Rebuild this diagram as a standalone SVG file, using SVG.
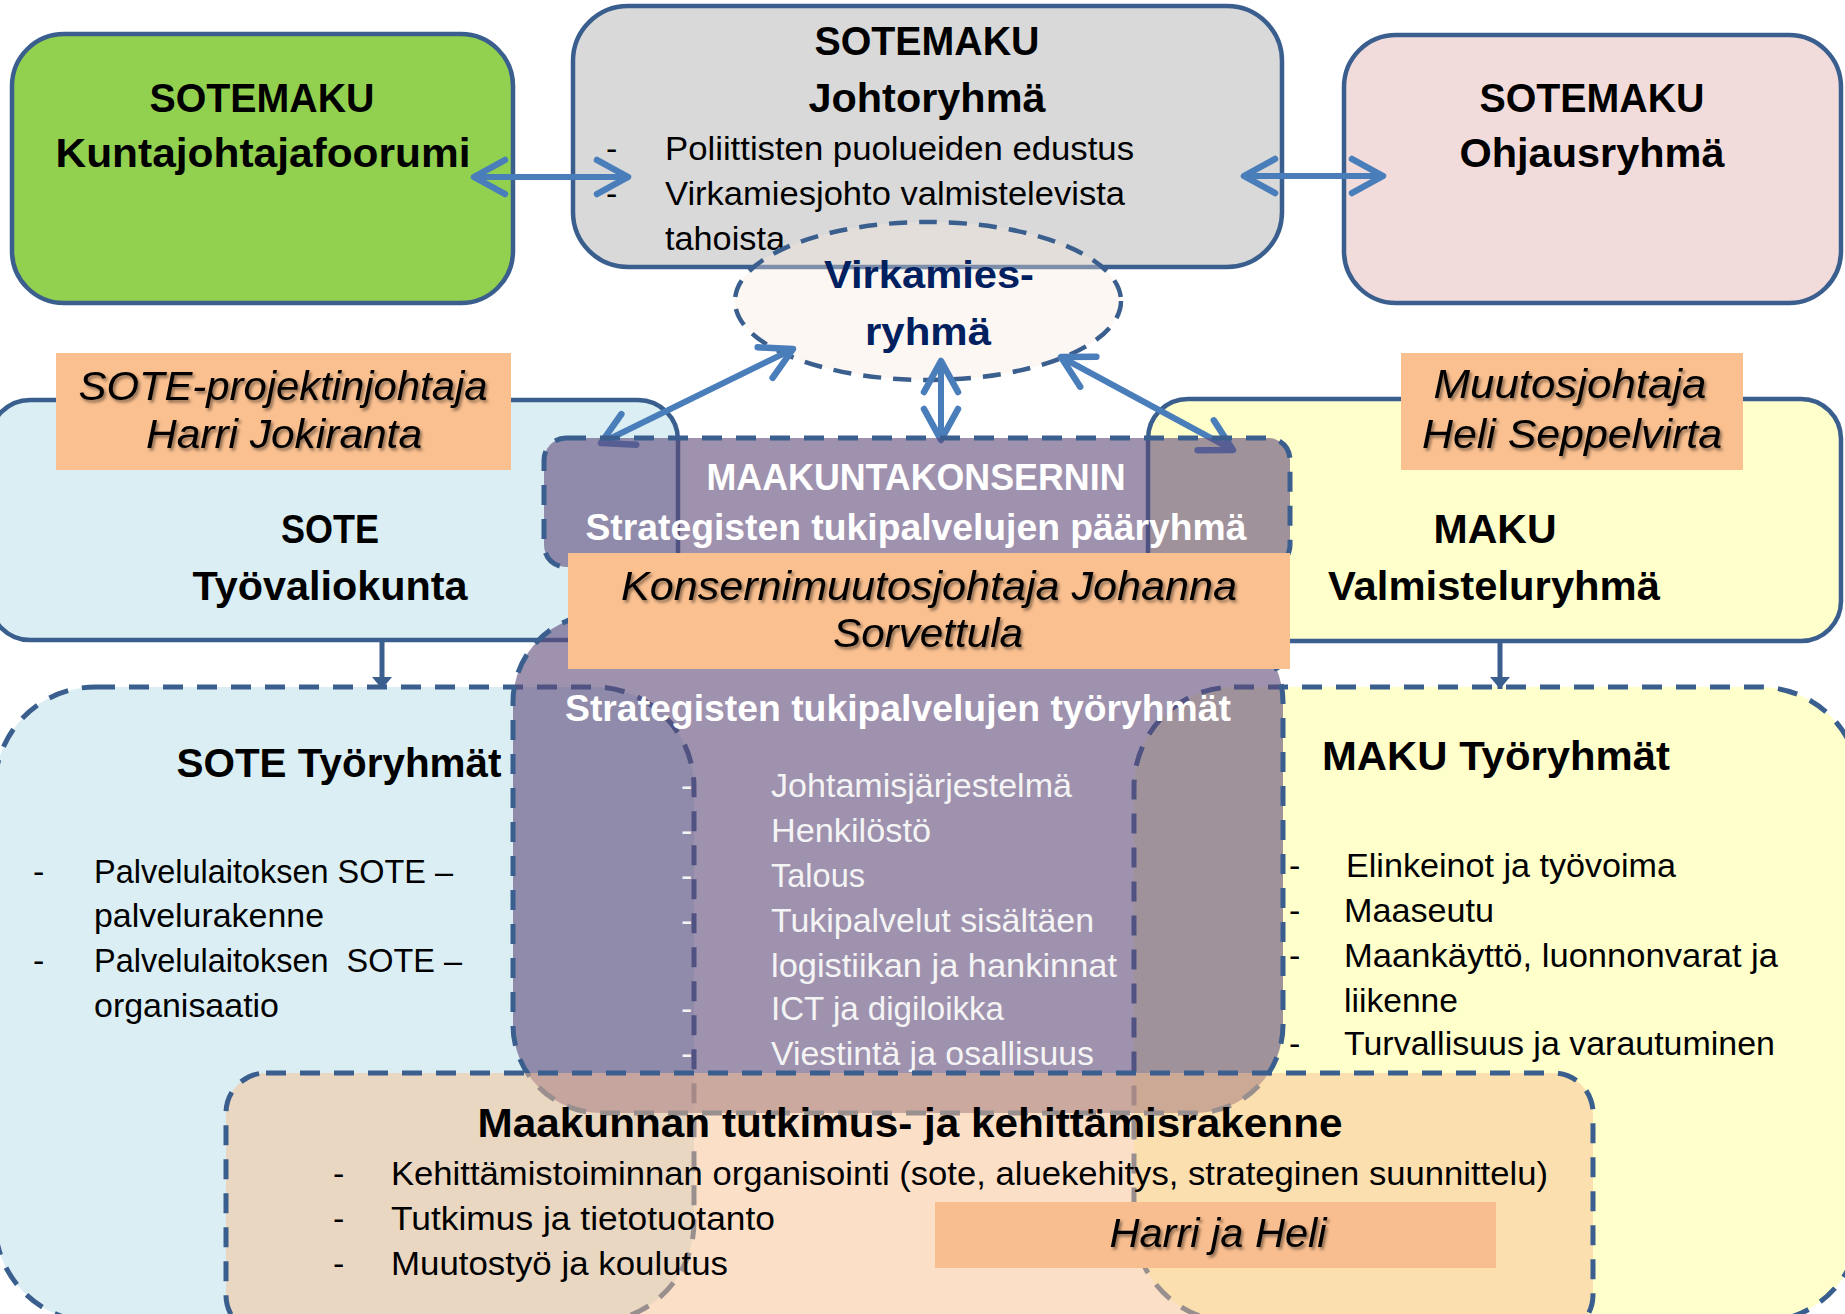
<svg xmlns="http://www.w3.org/2000/svg" width="1845" height="1314" viewBox="0 0 1845 1314">
<defs>
<style>
text{font-family:"Liberation Sans",Arial,sans-serif;}
.box{stroke:#3a5f8e;stroke-width:4.5;}
.dash{stroke:#3a5f8e;stroke-width:5;stroke-dasharray:20 14;}
.t{font-size:40px;font-weight:bold;fill:#000;text-anchor:middle;}
.w{font-size:36px;font-weight:bold;fill:#fff;text-anchor:middle;}
.r{font-size:34px;fill:#000;}
.rw{font-size:34px;fill:#f4f4f4;}
.it{font-size:40px;font-style:italic;fill:#000;text-anchor:middle;filter:url(#sh);}
.lab{fill:#fac090;}
.arr{stroke:#4a7ebb;stroke-width:6;fill:none;marker-start:url(#ah);marker-end:url(#ah);}
.dn{stroke:#3a5f8e;stroke-width:5;fill:none;marker-end:url(#ahs);}
</style>
<filter id="sh" x="-5%" y="-30%" width="115%" height="170%">
<feDropShadow dx="2" dy="2.5" stdDeviation="1.5" flood-color="#000" flood-opacity="0.45"/>
</filter>
<marker id="ah" markerUnits="userSpaceOnUse" viewBox="-42 -26 52 52" refX="0" refY="0" markerWidth="52" markerHeight="52" orient="auto-start-reverse">
<path d="M-31,-17 L0,0 L-31,17" fill="none" stroke="#4a7ebb" stroke-width="6.5" stroke-linecap="round" stroke-linejoin="round"/>
</marker>
<marker id="ahs" markerUnits="userSpaceOnUse" viewBox="-16 -12 20 24" refX="0" refY="0" markerWidth="20" markerHeight="24" orient="auto">
<path d="M-12,-10 L0,0 L-12,10 Z" fill="#3a5f8e"/>
</marker>
</defs>
<rect width="1845" height="1314" fill="#fff"/>

<g id="johtoryhma">
<rect class="box" x="573" y="6" width="709" height="261" rx="55" fill="#d9d9d9"/>
<text class="t" x="927" y="55" textLength="225" lengthAdjust="spacingAndGlyphs">SOTEMAKU</text>
<text class="t" x="927" y="112" textLength="237" lengthAdjust="spacingAndGlyphs">Johtoryhmä</text>
<text class="r" x="606" y="160">-</text>
<text class="r" x="606" y="205">-</text>
<text class="r" x="665" y="160" textLength="469" lengthAdjust="spacingAndGlyphs">Poliittisten puolueiden edustus</text>
<text class="r" x="665" y="205" textLength="460" lengthAdjust="spacingAndGlyphs">Virkamiesjohto valmistelevista</text>
<text class="r" x="665" y="250" textLength="120" lengthAdjust="spacingAndGlyphs">tahoista</text>
</g>

<g id="kuntajohtajafoorumi">
<rect class="box" x="12" y="34" width="501" height="269" rx="52" fill="#92d050"/>
<text class="t" x="262" y="112" textLength="225" lengthAdjust="spacingAndGlyphs">SOTEMAKU</text>
<text class="t" x="263" y="167" textLength="415" lengthAdjust="spacingAndGlyphs">Kuntajohtajafoorumi</text>
</g>

<g id="ohjausryhma">
<rect class="box" x="1344" y="35" width="497" height="268" rx="52" fill="#f2dcdb"/>
<text class="t" x="1592" y="112" textLength="225" lengthAdjust="spacingAndGlyphs">SOTEMAKU</text>
<text class="t" x="1592" y="167" textLength="265" lengthAdjust="spacingAndGlyphs">Ohjausryhmä</text>
</g>

<g id="virkamiesryhma">
<ellipse cx="928" cy="301" rx="193" ry="79" fill="#f8e8dc" fill-opacity="0.35" stroke="#3a5f8e" stroke-width="4.5" stroke-dasharray="18 12"/>
<text x="929" y="288" font-size="38" font-weight="bold" fill="#002060" text-anchor="middle" textLength="210" lengthAdjust="spacingAndGlyphs">Virkamies-</text>
<text x="928" y="345" font-size="38" font-weight="bold" fill="#002060" text-anchor="middle" textLength="126" lengthAdjust="spacingAndGlyphs">ryhmä</text>
</g>

<g id="sote-tyovaliokunta">
<rect class="box" x="-10" y="400" width="688" height="240" rx="40" fill="#daeef3"/>
<text class="t" x="330" y="543" textLength="98" lengthAdjust="spacingAndGlyphs">SOTE</text>
<text class="t" x="330" y="600" textLength="275" lengthAdjust="spacingAndGlyphs">Työvaliokunta</text>
</g>

<g id="maku-valmisteluryhma">
<rect class="box" x="1148" y="399" width="693" height="242" rx="40" fill="#ffffcc"/>
<text class="t" x="1495" y="543" textLength="123" lengthAdjust="spacingAndGlyphs">MAKU</text>
<text class="t" x="1494" y="600" textLength="332" lengthAdjust="spacingAndGlyphs">Valmisteluryhmä</text>
</g>

<g id="sote-projektinjohtaja">
<rect class="lab" x="56" y="353" width="455" height="117"/>
<text class="it" x="283" y="400" textLength="409" lengthAdjust="spacingAndGlyphs">SOTE-projektinjohtaja</text>
<text class="it" x="284" y="448" textLength="276" lengthAdjust="spacingAndGlyphs">Harri Jokiranta</text>
</g>

<g id="muutosjohtaja">
<rect class="lab" x="1401" y="353" width="342" height="117"/>
<text class="it" x="1570" y="398" textLength="273" lengthAdjust="spacingAndGlyphs">Muutosjohtaja</text>
<text class="it" x="1572" y="448" textLength="300" lengthAdjust="spacingAndGlyphs">Heli Seppelvirta</text>
</g>

<g id="sote-tyoryhmat">
<rect class="dash" x="-5" y="687" width="699" height="635" rx="100" fill="#daeef3"/>
<text class="t" x="339" y="777" textLength="325" lengthAdjust="spacingAndGlyphs">SOTE Työryhmät</text>
<text class="r" x="33" y="883">-</text>
<text class="r" x="94" y="883" textLength="359" lengthAdjust="spacingAndGlyphs">Palvelulaitoksen SOTE –</text>
<text class="r" x="94" y="927" textLength="230" lengthAdjust="spacingAndGlyphs">palvelurakenne</text>
<text class="r" x="33" y="972">-</text>
<text class="r" x="94" y="972" textLength="368" lengthAdjust="spacingAndGlyphs" xml:space="preserve">Palvelulaitoksen  SOTE –</text>
<text class="r" x="94" y="1017" textLength="185" lengthAdjust="spacingAndGlyphs">organisaatio</text>
</g>

<g id="maku-tyoryhmat">
<rect class="dash" x="1134" y="687" width="726" height="635" rx="100" fill="#ffffcc"/>
<text class="t" x="1496" y="770" textLength="348" lengthAdjust="spacingAndGlyphs">MAKU Työryhmät</text>
<text class="r" x="1289" y="877">-</text>
<text class="r" x="1346" y="877" textLength="330" lengthAdjust="spacingAndGlyphs">Elinkeinot ja työvoima</text>
<text class="r" x="1289" y="922">-</text>
<text class="r" x="1344" y="922" textLength="150" lengthAdjust="spacingAndGlyphs">Maaseutu</text>
<text class="r" x="1289" y="967">-</text>
<text class="r" x="1344" y="967" textLength="434" lengthAdjust="spacingAndGlyphs">Maankäyttö, luonnonvarat ja</text>
<text class="r" x="1344" y="1012" textLength="114" lengthAdjust="spacingAndGlyphs">liikenne</text>
<text class="r" x="1289" y="1055">-</text>
<text class="r" x="1344" y="1055" textLength="431" lengthAdjust="spacingAndGlyphs">Turvallisuus ja varautuminen</text>
</g>

<g id="connectors">
<line class="arr" x1="474" y1="177" x2="628" y2="177"/>
<line class="arr" x1="1244" y1="176" x2="1383" y2="176"/>
<line class="arr" x1="793" y1="349" x2="601" y2="443"/>
<line class="arr" x1="941" y1="361" x2="941" y2="440"/>
<line class="arr" x1="1061" y1="357" x2="1233" y2="450"/>
<line class="dn" x1="382" y1="640" x2="382" y2="689"/>
<line class="dn" x1="1500" y1="641" x2="1500" y2="689"/>
</g>

<g id="strategiset-tyoryhmat">
<rect class="dash" x="513" y="614" width="770" height="499" rx="88" fill="#5f497a" fill-opacity="0.6"/>
<text class="w" x="898" y="721" textLength="666" lengthAdjust="spacingAndGlyphs">Strategisten tukipalvelujen työryhmät</text>
<text class="rw" x="681" y="797">-</text>
<text class="rw" x="771" y="797" textLength="301" lengthAdjust="spacingAndGlyphs">Johtamisjärjestelmä</text>
<text class="rw" x="681" y="842">-</text>
<text class="rw" x="771" y="842" textLength="160" lengthAdjust="spacingAndGlyphs">Henkilöstö</text>
<text class="rw" x="681" y="887">-</text>
<text class="rw" x="771" y="887" textLength="94" lengthAdjust="spacingAndGlyphs">Talous</text>
<text class="rw" x="681" y="932">-</text>
<text class="rw" x="771" y="932" textLength="323" lengthAdjust="spacingAndGlyphs">Tukipalvelut sisältäen</text>
<text class="rw" x="771" y="977" textLength="346" lengthAdjust="spacingAndGlyphs">logistiikan ja hankinnat</text>
<text class="rw" x="681" y="1020">-</text>
<text class="rw" x="771" y="1020" textLength="233" lengthAdjust="spacingAndGlyphs">ICT ja digiloikka</text>
<text class="rw" x="681" y="1065">-</text>
<text class="rw" x="771" y="1065" textLength="323" lengthAdjust="spacingAndGlyphs">Viestintä ja osallisuus</text>
</g>

<g id="maakuntakonsernin-paaryhma">
<rect class="dash" x="544" y="438" width="746" height="129" rx="22" fill="#5f497a" fill-opacity="0.6"/>
<text class="w" x="916" y="490" textLength="419" lengthAdjust="spacingAndGlyphs">MAAKUNTAKONSERNIN</text>
<text class="w" x="916" y="540" textLength="661" lengthAdjust="spacingAndGlyphs">Strategisten tukipalvelujen pääryhmä</text>
</g>

<g id="konsernimuutosjohtaja">
<rect class="lab" x="568" y="553" width="722" height="116"/>
<text class="it" x="929" y="600" textLength="616" lengthAdjust="spacingAndGlyphs">Konsernimuutosjohtaja Johanna</text>
<text class="it" x="928" y="647" textLength="190" lengthAdjust="spacingAndGlyphs">Sorvettula</text>
</g>

<g id="tutkimus-kehittamisrakenne">
<rect class="dash" x="226" y="1073" width="1367" height="262" rx="40" fill="#fac090" fill-opacity="0.5"/>
<text class="t" x="910" y="1137" textLength="865" lengthAdjust="spacingAndGlyphs">Maakunnan tutkimus- ja kehittämisrakenne</text>
<text class="r" x="333" y="1185">-</text>
<text class="r" x="391" y="1185" textLength="1157" lengthAdjust="spacingAndGlyphs">Kehittämistoiminnan organisointi (sote, aluekehitys, strateginen suunnittelu)</text>
<text class="r" x="333" y="1230">-</text>
<text class="r" x="391" y="1230" textLength="384" lengthAdjust="spacingAndGlyphs">Tutkimus ja tietotuotanto</text>
<text class="r" x="333" y="1275">-</text>
<text class="r" x="391" y="1275" textLength="337" lengthAdjust="spacingAndGlyphs">Muutostyö ja koulutus</text>
</g>

<g id="harri-ja-heli">
<rect x="935" y="1202" width="561" height="66" fill="#f9be8f"/>
<text class="it" x="1218" y="1247" textLength="217" lengthAdjust="spacingAndGlyphs">Harri ja Heli</text>
</g>
</svg>
